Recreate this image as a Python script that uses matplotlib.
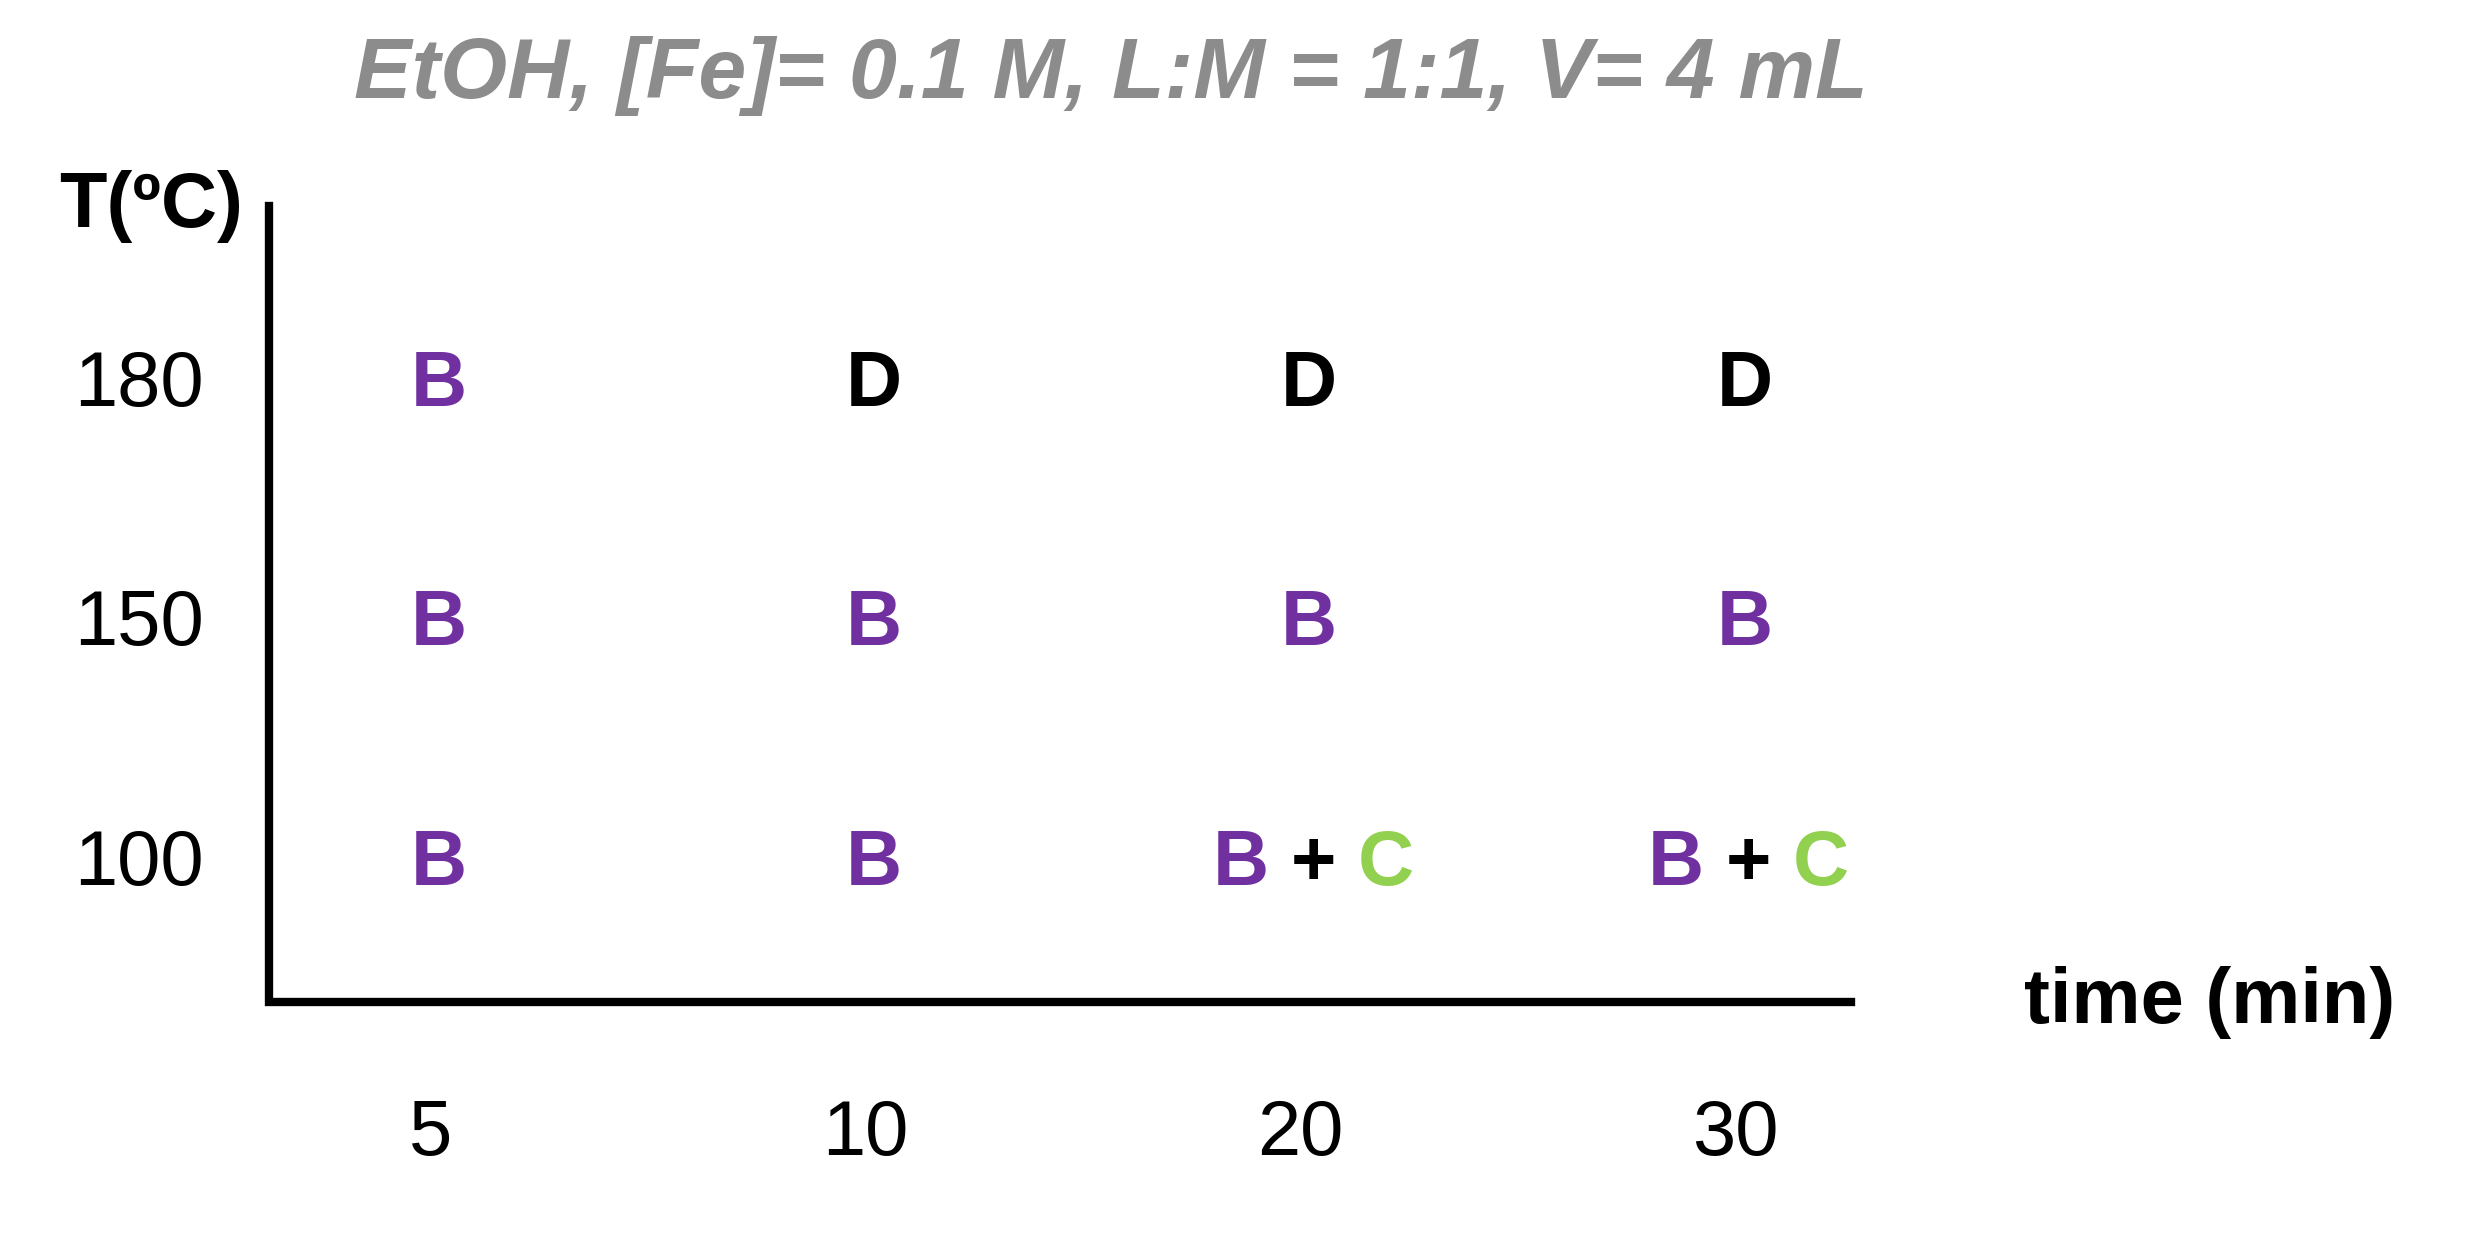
import matplotlib
matplotlib.use("Agg")
import matplotlib.pyplot as plt

times = ["5", "10", "20", "30"]
temps = ["100", "150", "180"]
# phase per (temperature row, time column)
phases = [
    [["B"], ["B"], ["B", "C"], ["B", "C"]],
    [["B"], ["B"], ["B"], ["B"]],
    [["B"], ["D"], ["D"], ["D"]],
]
colors = {"B": "#7030A0", "C": "#92D050", "D": "#000000"}
title = "EtOH, [Fe]= 0.1 M, L:M = 1:1, V= 4 mL"

fig = plt.figure(figsize=(24.81, 12.37), dpi=100)
ax = fig.add_axes([0, 0, 1, 1])
ax.set_xlim(-0.989, 4.713)
ax.set_ylim(-1.556, 3.609)
ax.axis("off")

fs = 56
fam = "Liberation Sans"
ax.plot([-0.371, -0.371, 3.265], [2.748, -0.576, -0.576], color="black", lw=6,
        solid_joinstyle="miter")
ax.text(-0.371 - 0.06, 2.748, "T(ºC)", ha="right", va="center", fontsize=fs,
        fontweight="bold", family=fam)
ax.text(4.09, -0.576, "time (min)", ha="center", va="center", fontsize=fs,
        fontweight="bold", family=fam)
ax.text(1.565, 3.29, title, ha="center", va="center", fontsize=62, style="italic",
        fontweight="bold", color="#8c8c8c", family=fam)

for j, t in enumerate(temps):
    ax.text(-0.669, j, t, ha="center", va="center", fontsize=fs, family=fam)
for i, t in enumerate(times):
    ax.text(i, -1.13, t, ha="center", va="center", fontsize=fs, family=fam)

for j, row in enumerate(phases):
    for i, cell in enumerate(row):
        if len(cell) == 1:
            ax.text(i + 0.02, j, cell[0], ha="center", va="center", fontsize=fs,
                    fontweight="bold", color=colors[cell[0]], family=fam)
        else:
            xc = i + 0.03
            ax.text(xc, j, "+", ha="center", va="center", fontsize=fs,
                    fontweight="bold", color="black", family=fam)
            ax.annotate(cell[0], (xc, j), xytext=(-32, 0), textcoords="offset points",
                        ha="right", va="center", fontsize=fs, fontweight="bold",
                        color=colors[cell[0]], family=fam)
            ax.annotate(cell[1], (xc, j), xytext=(32, 0), textcoords="offset points",
                        ha="left", va="center", fontsize=fs, fontweight="bold",
                        color=colors[cell[1]], family=fam)

fig.savefig("out.png", dpi=100, facecolor="white")
